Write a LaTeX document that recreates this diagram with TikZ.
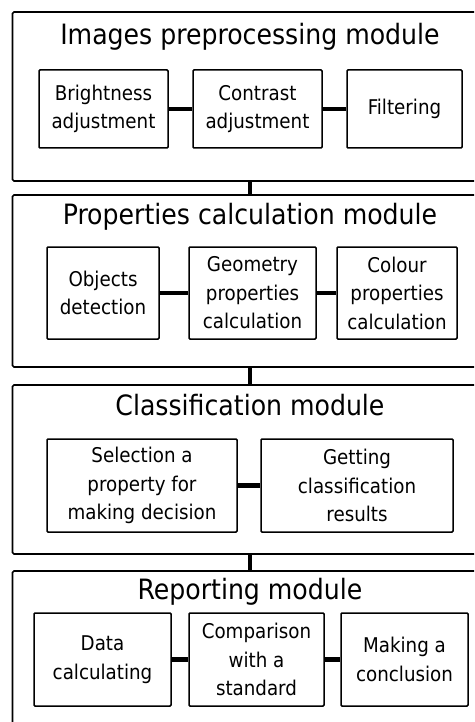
\documentclass[tikz,border=0pt]{standalone}
\usepackage{fontspec}
\setmainfont{DejaVu Sans Condensed}
\begin{document}
\begin{tikzpicture}[x=1pt,y=-1pt,
  module/.style={draw, line width=1.6pt, rounded corners=1.5pt, minimum width=475pt, inner sep=0pt},
  title/.style={font=\fontsize{28}{32}\selectfont, inner sep=0pt},
  sub/.style={draw, line width=1.5pt, rounded corners=1pt, align=center, inner sep=0pt,
    font=\fontsize{20.3}{28.5}\selectfont},
  link/.style={line width=4.5pt}]
\useasboundingbox (0,0) rectangle (474,722);
\clip (0,0) rectangle (474,722);
% modules
\node[module, minimum height=169pt] (m1) at (250,96.5) {};
\node[module, minimum height=172pt] (m2) at (250,281) {};
\node[module, minimum height=169pt] (m3) at (250,469.5) {};
\node[module, minimum height=170pt] (m4) at (250,656) {};
% titles
\node[title] (t1) at (250,37) {Images preprocessing module};
\node[title] (t2) at (250,217) {Properties calculation module};
\node[title] (t3) at (250,405) {Classification module};
\node[title] (t4) at (250,592) {Reporting module};
% module 1
\node[sub, minimum width=129pt, minimum height=78pt] (b1) at (103.5,109) {Brightness\\adjustment};
\node[sub, minimum width=129pt, minimum height=78pt] (b2) at (257.5,109) {Contrast\\adjustment};
\node[sub, minimum width=115pt, minimum height=78pt] (b3) at (404.5,109) {Filtering};
% module 2
\node[sub, minimum width=112pt, minimum height=92pt] (p1) at (103,293) {Objects\\detection};
\node[sub, minimum width=127pt, minimum height=92pt] (p2) at (252.5,293) {Geometry\\properties\\calculation};
\node[sub, minimum width=120pt, minimum height=92pt] (p3) at (397,293) {Colour\\properties\\calculation};
% module 3
\node[sub, minimum width=190pt, minimum height=93pt] (c1) at (142,485.5) {Selection a\\property for\\making decision};
\node[sub, minimum width=192pt, minimum height=93pt] (c2) at (357,485.5) {Getting\\classification\\results};
% module 4
\node[sub, minimum width=137pt, minimum height=93pt] (r1) at (102.5,659.5) {Data\\calculating};
\node[sub, minimum width=135pt, minimum height=93pt] (r2) at (256.5,659.5) {Comparison\\with a\\standard};
\node[sub, minimum width=127pt, minimum height=93pt] (r3) at (404.5,659.5) {Making a\\conclusion};
% links
\draw[link] (b1) -- (b2);
\draw[link] (b2) -- (b3);
\draw[link] (p1) -- (p2);
\draw[link] (p2) -- (p3);
\draw[link] (c1) -- (c2);
\draw[link] (r1) -- (r2);
\draw[link] (r2) -- (r3);
\draw[link] (m1.south) -- (m2.north);
\draw[link] (m2.south) -- (m3.north);
\draw[link] (m3.south) -- (m4.north);
\end{tikzpicture}
\end{document}
